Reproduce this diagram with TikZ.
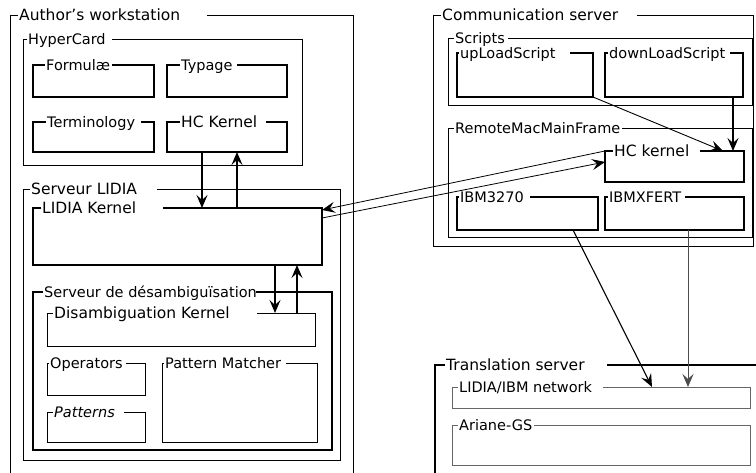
\documentclass[tikz,border=0pt]{standalone}
\usepackage{fontspec}
\setmainfont{DejaVu Sans}
\usetikzlibrary{fit,arrows.meta}
\newcommand\fsA{\fontsize{14.5}{17}\selectfont}
\newcommand\fsB{\fontsize{15.5}{18}\selectfont}
\tikzset{
  bx/.style={draw, inner sep=0pt, outer sep=0pt, line width=0.9pt},
  thinb/.style={line width=0.7pt},
  medb/.style={line width=1.2pt},
  thickb/.style={line width=1.7pt},
  greyb/.style={line width=0.7pt, draw=black!60},
  lbl/.style={fill=white, inner xsep=1pt, inner ysep=1pt, anchor=base west, font=\fsA},
  ttl/.style={font=\fsB},
  arr/.style={-{Stealth[length=13pt,width=11pt,inset=5pt]}, line width=1.1pt},
}
% box: [style]{name}{x1}{y1}{x2}{y2}
\newcommand\bx[6][]{\node[bx,#1,fit={(#3,#4)(#5,#6)}] (#2) {};}
% label: [style]{name}{ytop}{xstart}{xend}{text}
\newcommand\bxlab[6][]{\node[lbl,#1,minimum width={#5pt-#4pt}] (#2-l) at ({#4},{#3+5.5}) {\makebox[\dimexpr#5pt-#4pt-2pt\relax][l]{#6}};}
\begin{document}
\begin{tikzpicture}[x=1pt,y=-1pt]
\useasboundingbox (0,0) rectangle (756,473);
\clip (0,0) rectangle (756,473);
\fill[white] (0,0) rectangle (756,473);
% ---------- Author's workstation ----------
\bx[thinb]{aw}{10}{15}{353}{490}
\bx{hc}{23}{39}{302}{165}
\bx[medb]{form}{33}{65}{154}{97}
\bx[medb]{typ}{167}{65}{287}{97}
\bx[medb]{term}{33}{122}{154}{152}
\bx[medb]{hck}{167}{122}{287}{152}
\bx{sl}{23}{189}{340}{460}
\bx[thickb]{lk}{33}{208}{322}{265}
\bx[thickb]{sd}{33}{292}{332}{450}
\bx[thinb]{dk}{47}{313}{315}{346}
\bx[thinb]{ops}{47}{363}{145}{395}
\bx[thinb]{pm}{162}{363}{317}{442}
\bx[thinb]{pat}{47}{412}{145}{442}
% ---------- Communication server ----------
\bx{cs}{433}{15}{753}{246}
\bx[thinb]{scr}{448}{38}{752}{105}
\bx[medb]{up}{457}{53}{593}{97}
\bx[medb]{down}{605}{53}{743}{97}
\bx[thinb]{rm}{448}{128}{752}{237}
\bx[medb]{hckb}{605}{151}{744}{182}
\bx[medb]{ibm}{457}{197}{598}{230}
\bx[medb]{xf}{605}{197}{744}{230}
% ---------- Translation server ----------
\bx[medb]{ts}{435}{365}{780}{490}
\bx[greyb]{net}{452}{387}{750}{408}
\bx[greyb]{ar}{452}{425}{750}{465}
% ---------- labels ----------
\bxlab[ttl]{aw}{15}{18}{207}{Author's workstation}
\bxlab{hc}{39}{27}{112}{HyperCard}
\bxlab{form}{65}{45}{112}{Formulæ}
\bxlab{typ}{65}{180}{237}{Typage}
\bxlab{term}{122}{46}{141}{Terminology}
\bxlab[ttl]{hck}{122}{180}{266}{HC Kernel}
\bxlab[ttl]{sl}{189}{30}{157}{Serveur LIDIA}
\bxlab[ttl]{lk}{208}{41}{163}{LIDIA Kernel}
\bxlab{sd}{292}{43}{256}{Serveur de désambiguïsation}
\bxlab[ttl]{dk}{313}{53}{257}{Disambiguation Kernel}
\bxlab{ops}{363}{49}{126}{Operators}
\bxlab{pm}{363}{164}{286}{Pattern Matcher}
\bxlab{pat}{412}{53}{124}{\itshape Patterns}
\bxlab[ttl]{cs}{15}{441}{637}{Communication server}
\bxlab{scr}{38}{454}{508}{Scripts}
\bxlab{up}{53}{459}{570}{upLoadScript}
\bxlab{down}{53}{608}{730}{downLoadScript}
\bxlab{rm}{128}{454}{622}{RemoteMacMainFrame}
\bxlab[ttl]{hckb}{151}{613}{700}{HC kernel}
\bxlab{ibm}{197}{459}{530}{IBM3270}
\bxlab{xf}{197}{608}{685}{IBMXFERT}
\bxlab[ttl]{ts}{365}{445}{607}{Translation server}
\bxlab{net}{387}{458}{603}{LIDIA/IBM network}
\bxlab{ar}{425}{458}{534}{Ariane-GS}
% ---------- connectors ----------
\coordinate (xa) at (202,0);
\coordinate (xb) at (237,0);
\coordinate (xc) at (275,0);
\coordinate (xd) at (297,0);
\coordinate (xe) at (723,0);
\coordinate (xf0) at (733,0);
\coordinate (xg) at (573,0);
\coordinate (xh) at (652,0);
\coordinate (xi) at (688,0);
\draw[arr] (hck.south -| xa) -- (lk.north -| xa);
\draw[arr] (lk.north -| xb) -- (hck.south -| xb);
\draw[arr] (lk.south -| xc) -- (dk.north -| xc);
\draw[arr] (dk.north -| xd) -- (lk.south -| xd);
\draw[arr, line width=0.8pt] (hckb.north west) -- ([yshift=-2pt]lk.north east);
\draw[arr, line width=0.8pt] ([yshift=-10pt]lk.north east) -- ([yshift=-11pt]hckb.north west);
\draw[arr, line width=0.9pt] (up.south east) -- (hckb.north -| xe);
\draw[arr] (down.south -| xf0) -- (hckb.north -| xf0);
\draw[arr] (ibm.south -| xg) -- (net.north -| xh);
\draw[arr, line width=0.7pt, draw=black!70] (xf.south -| xi) -- (net.north -| xi);
\end{tikzpicture}
\end{document}
